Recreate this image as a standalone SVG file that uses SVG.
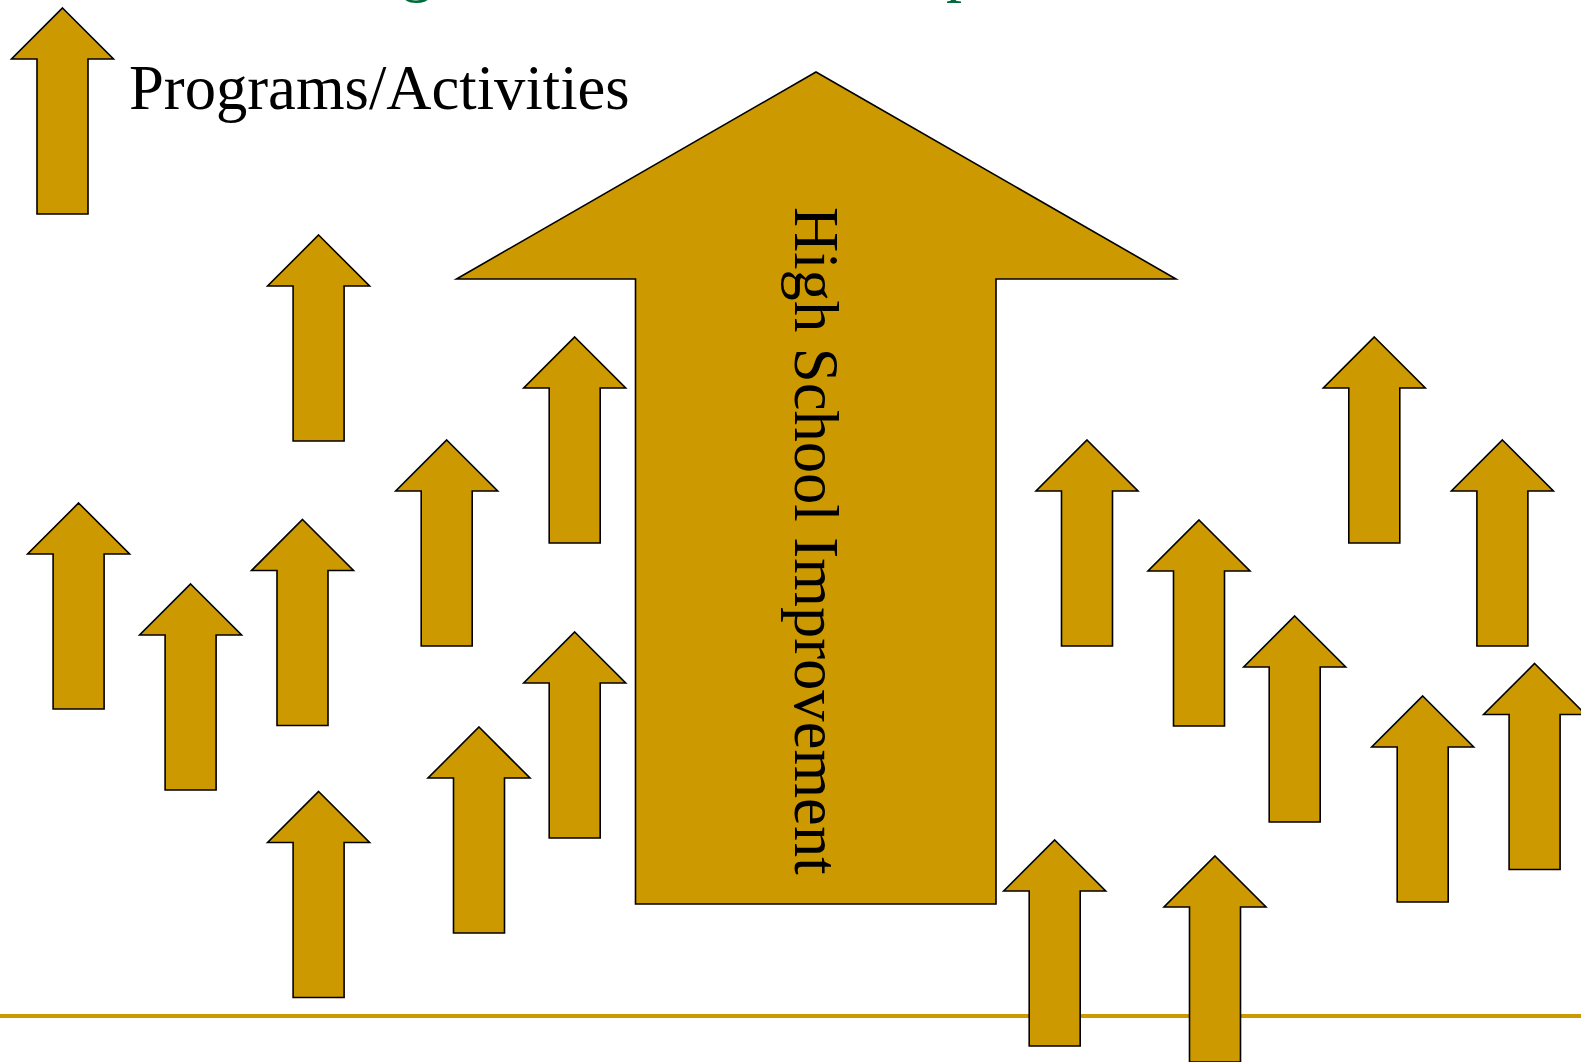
<svg xmlns="http://www.w3.org/2000/svg" xmlns:xlink="http://www.w3.org/1999/xlink" width="1581" height="1062" viewBox="0 0 1581 1062">
<style>
.arr{fill:#CC9900;stroke:#000;stroke-width:1.6;stroke-linejoin:miter}
.lbl{font-family:"Liberation Serif","Times New Roman",serif;fill:#000}
.ttl{font-family:"Liberation Serif","Times New Roman",serif;font-size:64px;fill:#006B3C}
</style>
<defs>
<path id="sa" d="M0,0 L51,51 L25.5,51 L25.5,206 L-25.5,206 L-25.5,51 L-51,51 Z"/>
</defs>
<rect width="1581" height="1062" fill="#fff"/>
<g id="title-fragment">
<text class="ttl" x="401" y="-11">g</text>
<text class="ttl" x="946" y="-11">p</text>
</g>
<rect id="rule" x="0" y="1014" width="1581" height="4" fill="#CC9900"/>
<g id="legend">
<use href="#sa" class="arr" x="62.5" y="8"/>
<text class="lbl" x="129" y="109" font-size="62.6">Programs/Activities</text>
</g>
<g id="big-arrow">
<path class="arr" d="M816,72 L1176,279 L996,279 L996,904 L635.5,904 L635.5,279 L456.5,279 Z"/>
<text class="lbl" font-size="62.6" transform="translate(795,207) rotate(90)">High School Improvement</text>
</g>
<g id="arrows-left">
<use id="a1" href="#sa" class="arr" x="318.6" y="235"/>
<use id="a2" href="#sa" class="arr" x="574.7" y="337"/>
<use id="a3" href="#sa" class="arr" x="446.7" y="440"/>
<use id="a4" href="#sa" class="arr" x="78.6" y="503"/>
<use id="a5" href="#sa" class="arr" x="190.6" y="584"/>
<use id="a6" href="#sa" class="arr" x="302.5" y="519.5"/>
<use id="a7" href="#sa" class="arr" x="574.7" y="632"/>
<use id="a8" href="#sa" class="arr" x="479" y="727"/>
<use id="a9" href="#sa" class="arr" x="318.6" y="791.5"/>
</g>
<g id="arrows-right">
<use id="b1" href="#sa" class="arr" x="1087" y="440"/>
<use id="b2" href="#sa" class="arr" x="1199" y="520"/>
<use id="b3" href="#sa" class="arr" x="1294.7" y="616"/>
<use id="b4" href="#sa" class="arr" x="1374.3" y="337"/>
<use id="b5" href="#sa" class="arr" x="1502.4" y="440"/>
<use id="b6" href="#sa" class="arr" x="1422.7" y="696"/>
<use id="b7" href="#sa" class="arr" x="1534.6" y="663.5"/>
<use id="b8" href="#sa" class="arr" x="1054.7" y="840"/>
<use id="b9" href="#sa" class="arr" x="1215" y="856"/>
</g>
</svg>
